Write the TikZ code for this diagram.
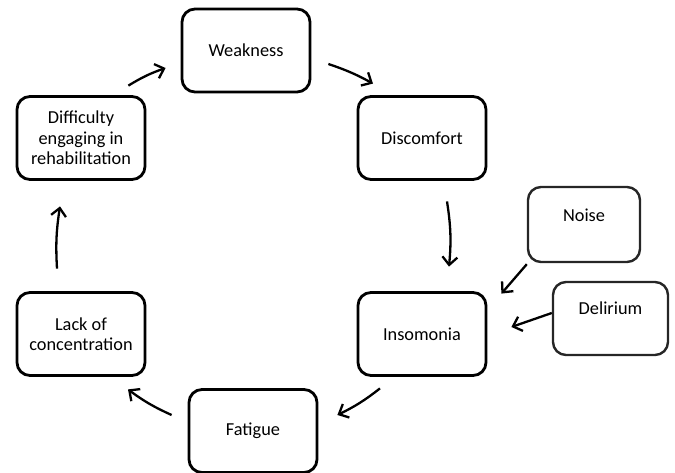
\documentclass[tikz,border=0pt]{standalone}
\usepackage{fontspec}
\setmainfont{Carlito}
\usetikzlibrary{arrows.meta}
\begin{document}
\begin{tikzpicture}[x=1pt,y=-1pt,
  txt/.style={font=\fontsize{18.3}{20.5}\selectfont},
  box/.style={draw,line width=2.8pt,rounded corners=13pt,align=center,
    minimum width=128pt,minimum height=83pt,inner sep=2pt,txt},
  sidebox/.style={box,line width=2.4pt,draw=black!85},
  arr/.style={line width=2.3pt,-{Straight Barb[length=8pt,width=15pt,line width=2.3pt]}}]
\useasboundingbox (0,0) rectangle (675,473);
\node[box] (weak) at (246,50.5) {Weakness};
\node[box] (disc) at (422,138) {Discomfort};
\node[box] (diff) at (81,138) {Difficulty\\engaging in\\rehabilitation};
\node[box] (ins) at (422,334) {Insomonia};
\node[box] (lack) at (81,334) {Lack of\\concentration};
\node[box] (fat) at (253,431) {Fatigue};
\node[sidebox,minimum width=112pt,minimum height=75pt] (noise) at (584,224.5) {};
\node[txt] (noiset) at ([yshift=-29pt]noise.north) {Noise};
\node[sidebox,minimum width=115pt,minimum height=73pt] (del) at (610.5,318.5) {};
\node[txt] (delt) at ([yshift=-27pt]del.north) {Delirium};
\draw[arr] ([shift={(-18,-9.5)}]diff.north east) to[bend left=6] ([shift={(-15,17.5)}]weak.west);
\draw[arr] ([shift={(17,13.5)}]weak.east) to[bend left=5] ([shift={(-49,-11.5)}]disc.north);
\draw[arr] ([shift={(25,20.5)}]disc.south) to[bend left=7] ([shift={(27,-24.5)}]ins.north);
\draw[arr] ([shift={(0,1)}]noise.south west) -- ([shift={(14,2.5)}]ins.north east);
\draw[arr] ([shift={(0,-5.5)}]del.west) -- ([shift={(24,-7)}]ins.east);
\draw[arr] ([shift={(-42,11.5)}]ins.south) to[bend left=6] ([shift={(19,-16)}]fat.east);
\draw[arr] ([shift={(-16,-16)}]fat.west) to[bend left=6] ([shift={(47,12.5)}]lack.south);
\draw[arr] ([shift={(-24,-22.5)}]lack.north) to[bend left=6] ([shift={(-21,25.5)}]diff.south);
\end{tikzpicture}
\end{document}
